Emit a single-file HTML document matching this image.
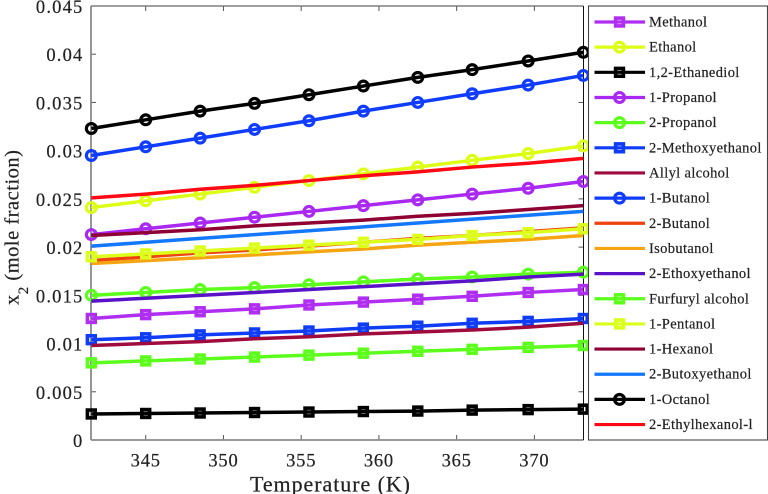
<!DOCTYPE html>
<html lang="en">
<head>
<meta charset="utf-8">
<title>Mole fraction vs temperature</title>
<style>
html,body{margin:0;padding:0;background:#fff;width:768px;height:494px;overflow:hidden}
svg{display:block;filter:blur(0.35px)}
text{font-family:"Liberation Serif",serif;fill:#222;stroke:#222;stroke-width:0.2px}
</style>
</head>
<body>
<svg id="chart" width="768" height="494" viewBox="0 0 768 494" xmlns="http://www.w3.org/2000/svg">
<text x="250" y="491.5" font-size="22" textLength="160" lengthAdjust="spacing">Temperature (K)</text>
<text transform="translate(18.5,305) rotate(-90)" font-size="20.5" textLength="155" lengthAdjust="spacing">x<tspan font-size="15" dy="9.5">2</tspan><tspan dy="-9.5"> (mole fraction)</tspan></text>
</svg>
<script>
const temperatures = [341.5, 345, 348.5, 352, 355.5, 359, 362.5, 366, 369.6, 373.15];
const xTickLabels = [345, 350, 355, 360, 365, 370];
const yTickLabels = ['0', '0.005', '0.01', '0.015', '0.02', '0.025', '0.03', '0.035', '0.04', '0.045'];
const yTickValues = [0, 0.005, 0.01, 0.015, 0.02, 0.025, 0.03, 0.035, 0.04, 0.045];
const seriesNames = ['Methanol', 'Ethanol', '1,2-Ethanediol', '1-Propanol', '2-Propanol', '2-Methoxyethanol', 'Allyl alcohol', '1-Butanol', '2-Butanol', 'Isobutanol', '2-Ethoxyethanol', 'Furfuryl alcohol', '1-Pentanol', '1-Hexanol', '2-Butoxyethanol', '1-Octanol', '2-Ethylhexanol-l'];
const methanol = [0.0126, 0.0130, 0.0133, 0.0136, 0.0140, 0.0143, 0.0146, 0.0149, 0.0153, 0.0156];
const ethanol = [0.0241, 0.0248, 0.0255, 0.0262, 0.0269, 0.0276, 0.0283, 0.0290, 0.0297, 0.0305];
const ethanediol = [0.0027, 0.00275, 0.0028, 0.00285, 0.0029, 0.00295, 0.0030, 0.0031, 0.00315, 0.0032];
const propanol1 = [0.0213, 0.0219, 0.0225, 0.0231, 0.0237, 0.0243, 0.0249, 0.0255, 0.0261, 0.0268];
const propanol2 = [0.0150, 0.0153, 0.0156, 0.0158, 0.0161, 0.0164, 0.0167, 0.0169, 0.0172, 0.0174];
const methoxyethanol = [0.0104, 0.0106, 0.0109, 0.0111, 0.0113, 0.0116, 0.0118, 0.0121, 0.0123, 0.0126];
const allylAlcohol = [0.0098, 0.0100, 0.0102, 0.0105, 0.0107, 0.0110, 0.0112, 0.0114, 0.0117, 0.0121];
const butanol1 = [0.0295, 0.0304, 0.0313, 0.0322, 0.0331, 0.0341, 0.0350, 0.0359, 0.0368, 0.0378];
const butanol2 = [0.0186, 0.0190, 0.0194, 0.0197, 0.0201, 0.0205, 0.0209, 0.0212, 0.0216, 0.0220];
const isobutanol = [0.0183, 0.0186, 0.0189, 0.0192, 0.0195, 0.0198, 0.0202, 0.0205, 0.0208, 0.0212];
const ethoxyethanol = [0.0144, 0.0147, 0.0150, 0.0153, 0.0156, 0.0159, 0.0162, 0.0165, 0.0169, 0.0172];
const furfurylAlcohol = [0.0080, 0.0082, 0.0084, 0.0086, 0.0088, 0.0090, 0.0092, 0.0094, 0.0096, 0.0098];
const pentanol = [0.0190, 0.0193, 0.0196, 0.0199, 0.0202, 0.0205, 0.0208, 0.0212, 0.0215, 0.0219];
const hexanol = [0.0212, 0.0215, 0.0218, 0.0222, 0.0225, 0.0228, 0.0232, 0.0235, 0.0239, 0.0243];
const butoxyethanol = [0.0201, 0.0205, 0.0209, 0.0213, 0.0217, 0.0221, 0.0225, 0.0229, 0.0233, 0.0237];
const octanol = [0.0323, 0.0332, 0.0341, 0.0349, 0.0358, 0.0367, 0.0376, 0.0384, 0.0393, 0.0402];
const ethylhexanol = [0.0251, 0.0255, 0.0260, 0.0264, 0.0269, 0.0274, 0.0278, 0.0283, 0.0287, 0.0292];
const seriesValues = [methanol, ethanol, ethanediol, propanol1, propanol2, methoxyethanol, allylAlcohol, butanol1, butanol2, isobutanol, ethoxyethanol, furfurylAlcohol, pentanol, hexanol, butoxyethanol, octanol, ethylhexanol];

const seriesColors = ['#b02ef2', '#ddff14', '#000000', '#a928f2', '#5cff1c', '#0f3cf5', '#a00b3e', '#0f3cff', '#f0420f', '#f5a512', '#5a12c8', '#5cff1c', '#ddff1c', '#8f0033', '#1478ff', '#000000', '#ff0a14'];
const seriesMarkers = ['s', 'c', 's', 'c', 'c', 's', '', 'c', '', '', '', 's', 's', '', '', 'c', ''];

const svg = document.getElementById('chart');
const NS = 'http://www.w3.org/2000/svg';
const plotLeft = 91, plotRight = 583.5, plotTop = 6, plotBottom = 440;
const xMin = 341.48, xMax = 373.16, yMin = 0, yMax = 0.045;
function xScale(v) { return plotLeft + (v - xMin) / (xMax - xMin) * (plotRight - plotLeft); }
function yScale(v) { return plotBottom - (v - yMin) / (yMax - yMin) * (plotBottom - plotTop); }
function make(tag, attrs, parent) {
  const el = document.createElementNS(NS, tag);
  for (const k in attrs) el.setAttribute(k, attrs[k]);
  (parent || svg).appendChild(el);
  return el;
}
function drawMarker(kind, cx, cy, color, parent) {
  if (kind === 's') {
    const m = make('rect', {x: cx - 3.9, y: cy - 3.9, width: 7.8, height: 7.8, fill: 'none', stroke: color, 'stroke-width': 3.6}, parent);
    
    
  } else if (kind === 'c') {
    const m = make('circle', {cx: cx, cy: cy, r: 4.9, fill: 'none', stroke: color, 'stroke-width': 3.2}, parent);
    
    
  }
}

// Plot frame
const frame = make('rect', {x: plotLeft, y: plotTop, width: plotRight - plotLeft, height: plotBottom - plotTop, fill: '#fff', stroke: 'none'});



const axisGroup = make('g', {});



xTickLabels.forEach(function (t) {
  const x = xScale(t);
  const tickB = make('line', {x1: x, x2: x, y1: plotBottom, y2: plotBottom - 5, stroke: '#555', 'stroke-width': 1}, axisGroup);
  
  
  const tickT = make('line', {x1: x, x2: x, y1: plotTop, y2: plotTop + 5, stroke: '#555', 'stroke-width': 1}, axisGroup);
  
  
  const label = make('text', {x: x, y: 466.5, 'text-anchor': 'middle', 'font-size': 18.5, 'letter-spacing': 0.8}, axisGroup);
  
  
  label.textContent = t;
});
yTickValues.forEach(function (v, i) {
  const y = yScale(v);
  const tickL = make('line', {x1: plotLeft, x2: plotLeft + 5, y1: y, y2: y, stroke: '#555', 'stroke-width': 1}, axisGroup);
  
  
  const tickR = make('line', {x1: plotRight, x2: plotRight - 5, y1: y, y2: y, stroke: '#555', 'stroke-width': 1}, axisGroup);
  
  
  const label = make('text', {x: 83.5, y: y + 7, 'text-anchor': 'end', 'font-size': 18.5, 'letter-spacing': 1.2}, axisGroup);
  
  
  label.textContent = yTickLabels[i];
});
const axisLeft = make('line', {x1: plotLeft, x2: plotLeft, y1: plotTop, y2: plotBottom, stroke: '#8a8a8a', 'stroke-width': 1.8}, axisGroup);


const axisBottom = make('line', {x1: plotLeft, x2: plotRight, y1: plotBottom, y2: plotBottom, stroke: '#8a8a8a', 'stroke-width': 1.8}, axisGroup);


const axisTop = make('line', {x1: plotLeft, x2: plotRight, y1: plotTop, y2: plotTop, stroke: '#666', 'stroke-width': 1.2}, axisGroup);


const axisRight = make('line', {x1: plotRight, x2: plotRight, y1: plotTop, y2: plotBottom, stroke: '#111', 'stroke-width': 1}, axisGroup);



// Series
seriesValues.forEach(function (vals, i) {
  const g = make('g', {});
  
  
  const pts = vals.map(function (v, j) { return xScale(temperatures[j]).toFixed(2) + ',' + yScale(v).toFixed(2); }).join(' ');
  const line = make('polyline', {points: pts, fill: 'none', stroke: seriesColors[i], 'stroke-width': 3.5, 'stroke-linejoin': 'round'}, g);
  
  
  if (seriesMarkers[i]) {
    vals.forEach(function (v, j) {
      drawMarker(seriesMarkers[i], xScale(temperatures[j]), yScale(v), seriesColors[i], g);
    });
  }
});

// Legend
const legend = make('g', {});


const legendBox = make('rect', {x: 588.5, y: 6, width: 179, height: 434, fill: '#fff', stroke: '#444', 'stroke-width': 1.1}, legend);


seriesNames.forEach(function (name, i) {
  const y = 22 + i * 25.16;
  const entry = make('g', {}, legend);
  
  
  const sample = make('line', {x1: 594.5, x2: 645, y1: y, y2: y, stroke: seriesColors[i], 'stroke-width': 3.2}, entry);
  
  
  if (seriesMarkers[i]) drawMarker(seriesMarkers[i], 619.5, y, seriesColors[i], entry);
  const label = make('text', {x: 649, y: y + 4.5, 'font-size': 14.5, 'letter-spacing': 0.35}, entry);
  
  
  label.textContent = name;
});
</script>
</body>
</html>
